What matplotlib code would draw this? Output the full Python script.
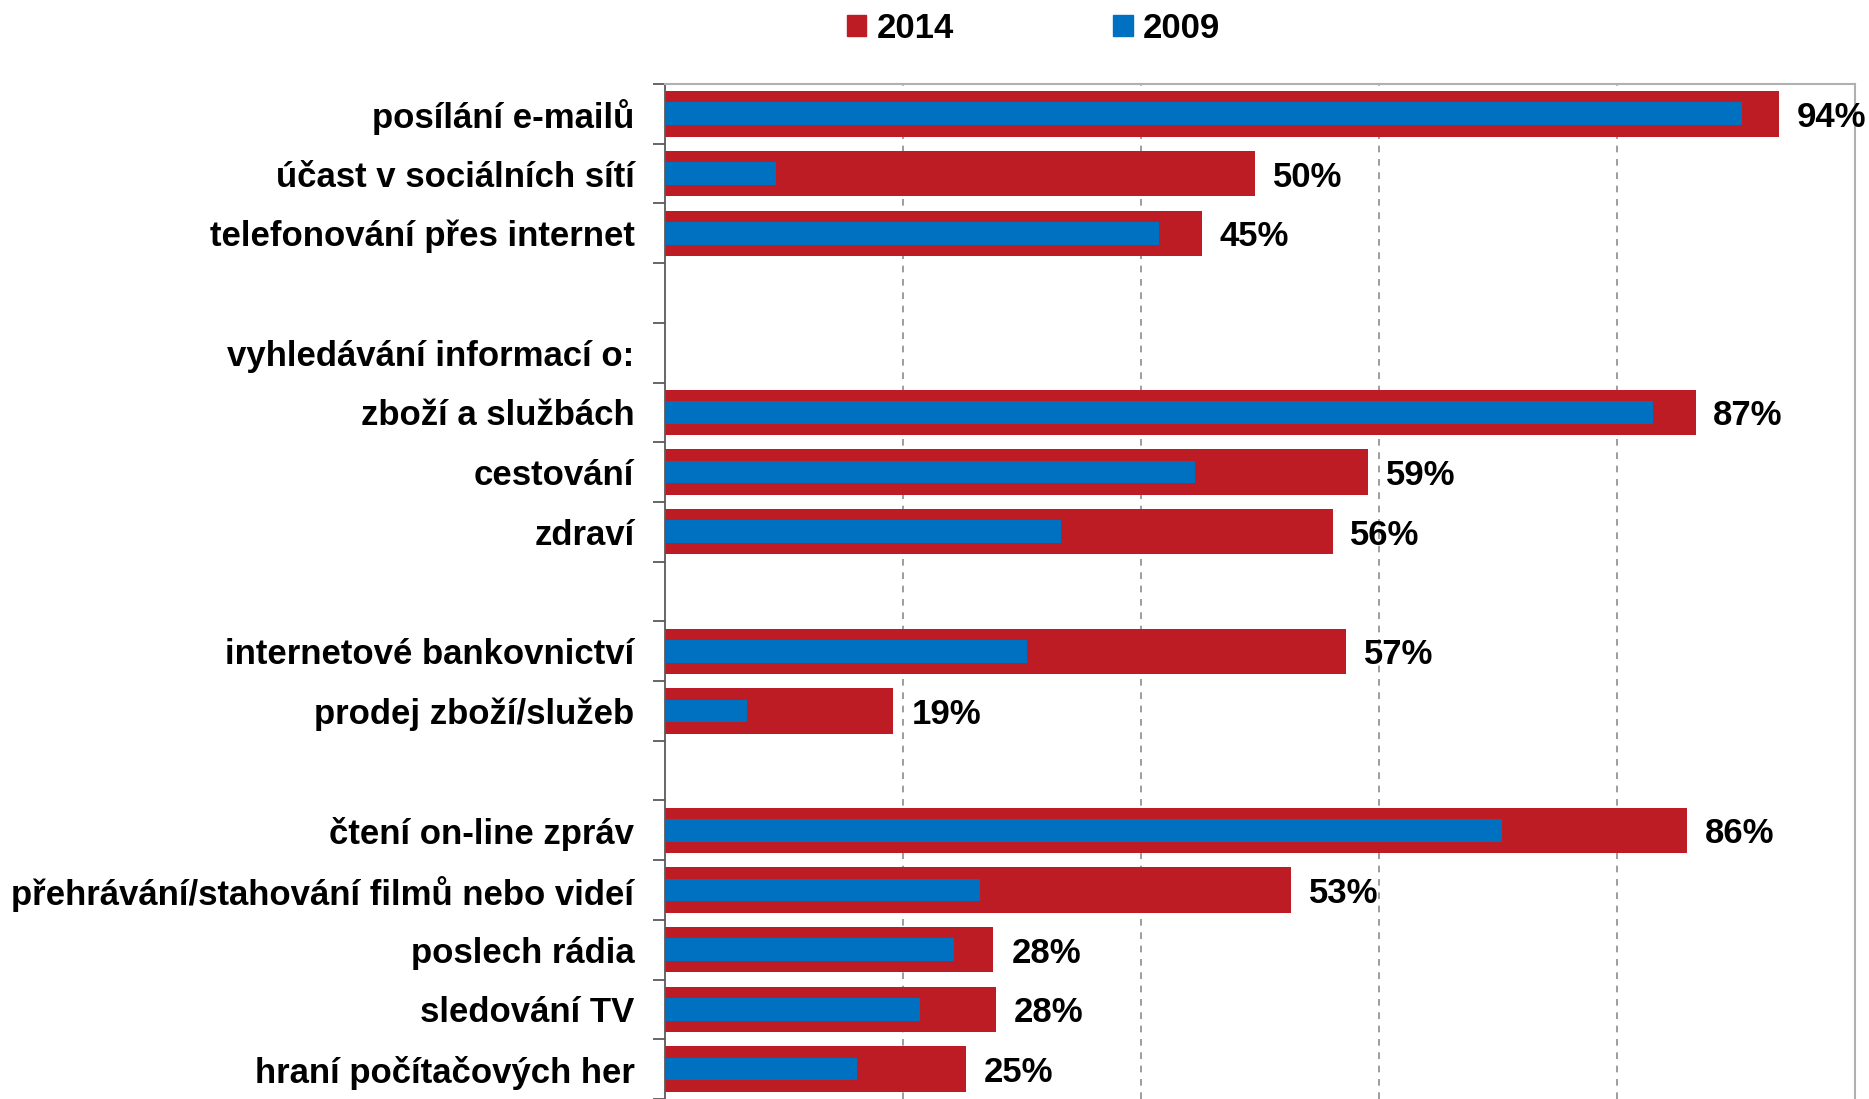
import numpy as np
import matplotlib
matplotlib.use("Agg")
import matplotlib.pyplot as plt
from matplotlib.patches import Patch
from matplotlib.ticker import FixedLocator

plt.rcParams['font.family'] = ['Liberation Sans', 'DejaVu Sans']

categories = [
    "posílání e-mailů",
    "účast v sociálních sítí",
    "telefonování přes internet",
    "",
    "vyhledávání informací o:",
    "zboží a službách",
    "cestování",
    "zdraví",
    "",
    "internetové bankovnictví",
    "prodej zboží/služeb",
    "",
    "čtení on-line zpráv",
    "přehrávání/stahování filmů nebo videí",
    "poslech rádia",
    "sledování TV",
    "hraní počítačových her",
]
nan = np.nan
values_2014 = [93.6, 49.6, 45.1, nan, nan, 86.6, 59.1, 56.1, nan, 57.2, 19.2, nan,
               85.9, 52.6, 27.6, 27.8, 25.3]
values_2009 = [90.5, 9.3, 41.5, nan, nan, 83.0, 44.5, 33.3, nan, 30.4, 6.9, nan,
               70.3, 26.5, 24.3, 21.4, 16.1]
series_names = ["2014", "2009"]

RED = "#BE1C24"
BLUE = "#0070C0"
FS = 25

fig = plt.figure(figsize=(18.69, 10.99), dpi=100)
ax = fig.add_axes([0.3558, 0.0, 0.9925 - 0.3558, 0.9236])

y = np.arange(len(categories))
v14 = np.array(values_2014, dtype=float)
v09 = np.array(values_2009, dtype=float)
mask = ~np.isnan(v14)

ax.barh(y[mask], v14[mask], height=0.76, color=RED, zorder=2)
ax.barh(y[mask], v09[mask], height=0.38, color=BLUE, zorder=3)

for yi, v in zip(y[mask], v14[mask]):
    ax.text(v + 1.5, yi, f"{int(round(v))}%", va="center_baseline", ha="left",
            fontsize=FS, fontweight="bold", color="black", zorder=4)

ax.set_xlim(0, 100)
ax.set_ylim(len(categories) - 0.5, -0.5)
ax.set_xticks([20, 40, 60, 80])
ax.xaxis.grid(True, linestyle=(0, (4, 4)), color="#8c8c8c", linewidth=1.2, zorder=0)
ax.set_axisbelow(True)
ax.tick_params(axis="x", length=0, labelbottom=False)

ax.set_yticks(y)
ax.set_yticklabels(categories, fontsize=FS, fontweight="bold", va="center_baseline")
ax.tick_params(axis="y", which="major", length=0, pad=22)
ax.yaxis.set_minor_locator(FixedLocator(np.arange(-0.5, len(categories), 1.0)))
ax.tick_params(axis="y", which="minor", length=9, width=1.3, color="#5a5a5a", direction="out")

ax.spines["left"].set_color("#5a5a5a")
ax.spines["left"].set_linewidth(1.3)
for s in ["top", "right"]:
    ax.spines[s].set_color("#b0b0b0")
    ax.spines[s].set_linewidth(1.5)
ax.spines["bottom"].set_visible(False)

handles = [Patch(color=RED, label=series_names[0]), Patch(color=BLUE, label=series_names[1])]
fig.legend(handles=handles, loc="center", bbox_to_anchor=(0.553, 0.974), ncol=2,
           frameon=False, prop={"size": FS, "weight": "bold"},
           handlelength=0.55, handleheight=0.55, handletextpad=0.3, columnspacing=4.6)

fig.savefig("out.png", dpi=100)
